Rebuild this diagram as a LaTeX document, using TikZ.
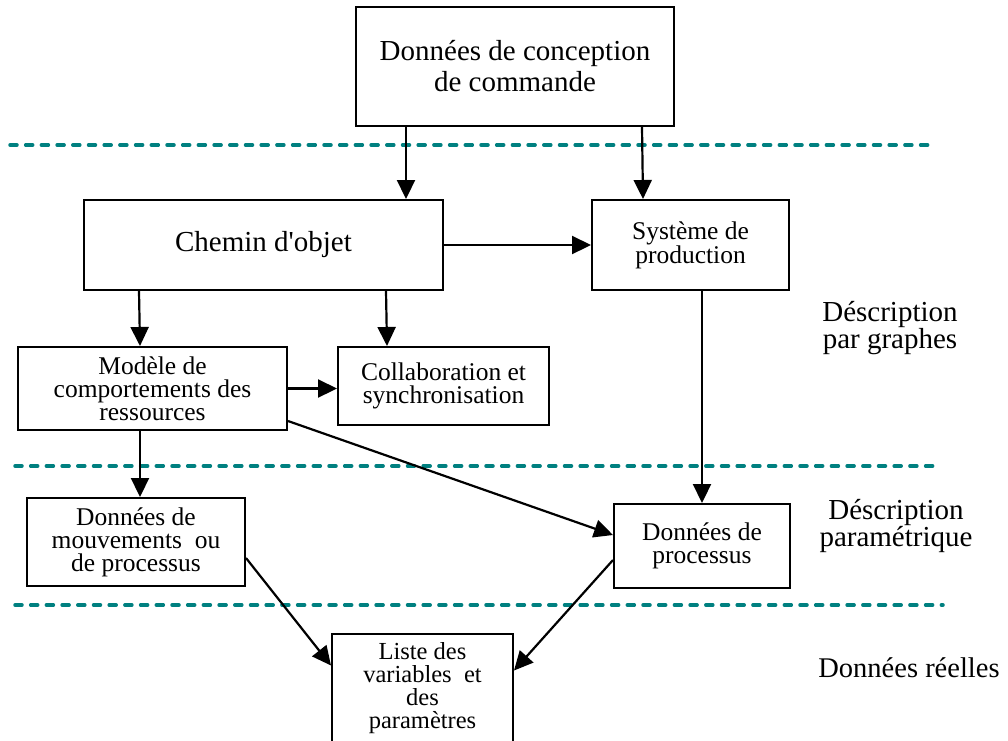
\documentclass[tikz,border=0pt]{standalone}
\usepackage{fontspec}
\setmainfont{Liberation Serif}
\usetikzlibrary{shapes,arrows.meta,positioning}

\definecolor{tirets}{RGB}{0,128,128}
\tikzset{
	boite/.style={draw,line width=2pt,align=center,inner sep=0pt,font=\fontsize{25.5}{23}\selectfont},
	grande/.style={font=\fontsize{29}{31}\selectfont},
	fleche/.style={-{Triangle[length=19pt,width=18pt]},line width=2.2pt},
	niveau/.style={draw=tirets,line width=3.5pt,line cap=round,dash pattern=on 7pt off 8.7pt},
	legende/.style={align=center,font=\fontsize{29}{24}\selectfont}
}

\begin{document}
\begin{tikzpicture}[x=1pt,y=-1pt]
		\useasboundingbox (0,0) rectangle (1008,740);
		\clip (0,0) rectangle (1008,740);
		% niveaux
		\draw[niveau] (10,145) -- (935,145);
		\draw[niveau] (15,466) -- (940,466);
		\draw[niveau] (15,605) -- (943,605);
		% boites
		\node[boite,grande,minimum width=318pt,minimum height=119pt] (conception) at (515,66.5) {Données de conception\\de commande};
		\node[boite,grande,minimum width=359pt,minimum height=90pt] (chemin) at (263.5,245) {Chemin d\textquotesingle objet};
		\node[boite,minimum width=197pt,minimum height=90pt] (systeme) at (690.5,245) {Système de\\production};
		\node[boite,minimum width=269pt,minimum height=83pt] (modele) at (152.5,388.5) {Modèle de\\comportements des\\ressources};
		\node[boite,minimum width=211pt,minimum height=78pt] (collab) at (443.5,386) {Collaboration et\\synchronisation};
		\node[boite,minimum width=218pt,minimum height=88pt] (mouvements) at (136,542) {Données de\\mouvements~ ou\\de processus};
		\node[boite,minimum width=176pt,minimum height=84pt] (processus) at (702,546) {Données de\\processus};
		\node[boite,minimum width=181pt,minimum height=109pt,font=\fontsize{24.5}{23}\selectfont] (liste) at (422.5,688) {Liste des\\variables~ et\\des\\paramètres};
		% fleches
		\draw[fleche] ([xshift=51pt]conception.south west) -- ([xshift=323pt]chemin.north west);
		\draw[fleche] ([xshift=287pt]conception.south west) -- ([xshift=-47.5pt]systeme.north);
		\draw[fleche] (chemin) -- (systeme);
		\draw[fleche] ([xshift=56pt]chemin.south west) -- ([xshift=-12.5pt]modele.north);
		\draw[fleche] ([xshift=303pt]chemin.south west) -- ([xshift=-56.5pt]collab.north);
		\draw[fleche] (modele.east) -- (modele.east -| collab.west);
		\draw[fleche] ([xshift=-12.5pt]modele.south) -- ([xshift=4pt]mouvements.north);
		\draw[fleche] (processus.north |- systeme.south) -- (processus.north);
		\draw[fleche] ([yshift=10pt]modele.south east) -- ([yshift=11pt]processus.west);
		\draw[fleche] ([yshift=-16pt]mouvements.east) -- ([yshift=22.5pt]liste.west);
		\draw[fleche] ([yshift=-14pt]processus.west) -- ([yshift=17.5pt]liste.east);
		% legendes
		\node[legende] (graphes) at (890,328) {Déscription\\par graphes};
		\node[legende] (parametrique) at (896,526) {Déscription\\paramétrique};
		\node[legende,font=\fontsize{28.5}{24}\selectfont] (reelles) at (909,668) {Données réelles};
	\end{tikzpicture}
\end{document}
